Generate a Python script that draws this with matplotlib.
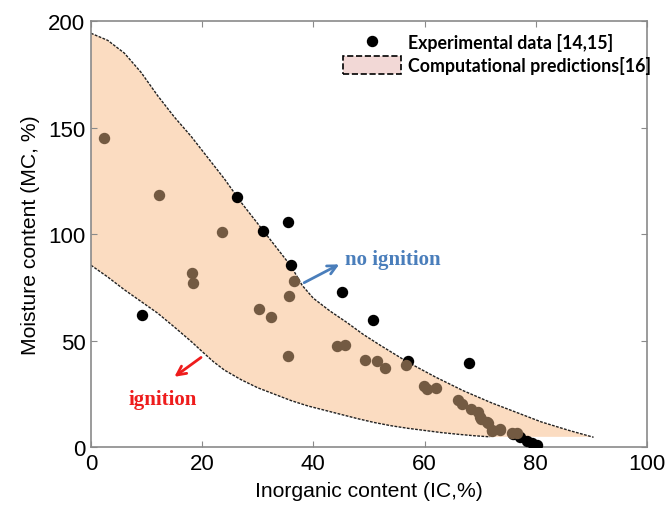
import matplotlib
matplotlib.use("Agg")
import matplotlib.pyplot as plt
from matplotlib.lines import Line2D
from matplotlib.patches import Patch
import numpy as np


# experimental data [14,15]
EXP_IC = [9.2, 26.2, 31.0, 35.5, 36.0, 45.1, 50.8, 57.1, 68.0, 76.0, 77.2, 78.4, 79.3, 80.2]
EXP_MC = [62.3, 117.6, 101.5, 105.9, 85.7, 72.8, 59.9, 40.7, 39.5, 6.3, 4.8, 3.2, 2.1, 1.2]

# computational predictions [16] (points)
COMP_IC = [2.4, 12.3, 23.5, 18.2, 18.4, 30.2, 32.4, 35.6, 36.6, 35.4, 44.3, 45.7,
           49.3, 51.4, 52.8, 56.7, 59.9, 60.4, 62.1, 66.1, 66.7, 68.4, 69.7, 70.0,
           70.2, 71.2, 71.5, 72.1, 72.2, 73.5, 73.6, 75.7, 76.7]
COMP_MC = [145.3, 118.4, 101.1, 81.9, 77.2, 64.9, 61.1, 71.0, 78.2, 43.0, 47.7, 48.2,
           41.2, 40.7, 37.1, 38.8, 29.0, 27.4, 27.9, 22.3, 20.4, 18.1, 16.8, 14.2,
           13.4, 11.8, 11.5, 8.3, 7.6, 8.7, 8.3, 6.7, 6.7]

# band edges
UPPER_IC = [0, 3, 6, 9, 12, 15, 18, 21, 24, 27, 30, 33, 36, 38, 40, 43, 46, 49, 52,
            57, 62, 67, 72, 76, 81, 86, 90.4]
UPPER_MC = [194.3, 191, 185, 176, 165, 155, 146, 136, 126, 115, 105, 95, 85, 76, 70,
            64, 58.7, 53, 48, 40, 33, 26.6, 21, 17, 12, 8, 4.8]
LOWER_IC = [0, 3, 6, 9, 12, 15, 18, 20, 22, 24, 27, 30, 33, 36, 39, 42, 45, 48, 51,
            54, 57, 60, 63, 66, 69, 71.8]
LOWER_MC = [85.5, 80, 74, 68.5, 63, 56.5, 49.8, 45, 40.3, 36.3, 31.8, 28, 25, 22, 19.5,
            17.5, 15.5, 13.5, 11.7, 10.2, 9, 8, 7, 6.2, 5.5, 5.0]

X_TICKS = [0, 20, 40, 60, 80, 100]
Y_TICKS = [0, 50, 100, 150, 200]

BAND_COLOR = "#fbdcc1"
BROWN = "#735a42"
BLUE = "#4a7ebb"
RED = "#ee1c1c"
SPINE = "#8a8a8a"


def main() -> None:
    plt.rcParams["font.family"] = ["Liberation Sans", "DejaVu Sans"]

    fig = plt.figure(figsize=(6.69, 5.10), dpi=100)
    ax = fig.add_axes([0.136, 0.1206, 0.831, 0.836])

    # shaded prediction band
    band_x = np.concatenate([UPPER_IC, [UPPER_IC[-1]], LOWER_IC[::-1]])
    band_y = np.concatenate([UPPER_MC, [LOWER_MC[-1]], LOWER_MC[::-1]])
    ax.fill(band_x, band_y, color=BAND_COLOR, lw=0, zorder=1)
    ax.plot(UPPER_IC, UPPER_MC, ls=(0, (2, 1)), color="#222222", lw=1.0, zorder=2)
    ax.plot(LOWER_IC, LOWER_MC, ls=(0, (2, 1)), color="#222222", lw=1.0, zorder=2)

    ax.plot(EXP_IC, EXP_MC, "o", color="black", ms=7.2, zorder=3)
    ax.plot(COMP_IC, COMP_MC, "o", color=BROWN, ms=7.2, zorder=4)

    # annotations
    ax.annotate("", xy=(45.1, 86.5), xytext=(37.9, 76.7),
                arrowprops=dict(arrowstyle="->", color=BLUE, lw=2, mutation_scale=16))
    ax.text(45.7, 88.6, "no ignition", ha="left", va="center", color=BLUE,
            family="Liberation Serif", fontweight="bold", fontsize=15)
    ax.annotate("", xy=(14.6, 32.4), xytext=(20.2, 43.0),
                arrowprops=dict(arrowstyle="->", color=RED, lw=2, mutation_scale=16))
    ax.text(12.9, 22.7, "ignition", ha="center", va="center", color=RED,
            family="Liberation Serif", fontweight="bold", fontsize=15)

    ax.set_xlim(0, 100)
    ax.set_ylim(0, 200)
    ax.set_xticks(X_TICKS)
    ax.set_yticks(Y_TICKS)
    ax.tick_params(direction="in", length=4, color=SPINE, labelsize=16,
                   top=True, right=True, pad=4)
    for spine in ax.spines.values():
        spine.set_color(SPINE)
        spine.set_linewidth(1.2)

    ax.set_xlabel("Inorganic content (IC,%)", fontsize=15.2, labelpad=5)
    ax.set_ylabel("Moisture content (MC, %)", fontsize=15.2, labelpad=6)

    handles = [
        Line2D([], [], marker="o", color="black", ls="none", ms=7.2),
        Patch(facecolor="#f2d8d6", edgecolor="black", linestyle="--", lw=1.2),
    ]
    labels = ["Experimental data [14,15]", "Computational predictions[16]"]
    ax.legend(handles, labels, loc="upper left", bbox_to_anchor=(0.499, 0.95),
              bbox_transform=fig.transFigure, frameon=False, borderpad=0,
              handlelength=3.3, handleheight=1.15, handletextpad=0.4,
              labelspacing=0.25, prop=dict(family="Lato", weight="bold", size=12.8))

    fig.savefig("out.png", dpi=100)
    plt.close(fig)


if __name__ == "__main__":
    main()
